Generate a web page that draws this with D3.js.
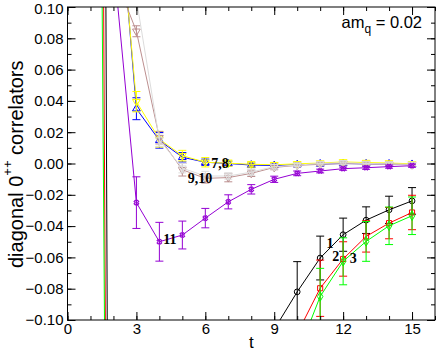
<!DOCTYPE html>
<html>
<head>
<meta charset="utf-8">
<script src="https://cdn.jsdelivr.net/npm/d3@7"></script>
<style>
	html, body { margin: 0; padding: 0; background: #fff; }
	text { font-family: "Liberation Sans", Arial, sans-serif; }
	.lbl { font-family: "Liberation Serif", "Times New Roman", serif; font-weight: bold; }
</style>
</head>
<body>
<div id="chart"></div>
<script>
// time slices
const times = [1, 2, 3, 4, 5, 6, 7, 8, 9, 10, 11, 12, 13, 14, 15];

// correlator values per operator (null = not read / not shown)
const corr1 = [2.46, -1.05, null, null, null, null, null, null, -0.106, -0.082, -0.0604, -0.0455, -0.0362, -0.0296, -0.0239];
const err1 = [null, null, null, null, null, null, null, null, null, 0.0193, 0.014, 0.0106, 0.0085, 0.0087, 0.0085];
const corr2 = [1.65, -1.05, null, null, null, null, null, null, null, -0.1087, -0.0797, -0.061, -0.0466, -0.0381, -0.0313];
const err2 = [null, null, null, null, null, null, null, null, null, 0.008, 0.018, 0.011, 0.01, 0.01, 0.011];
const corr3 = [1.12, -0.88, null, null, null, null, null, null, null, -0.1225, -0.085, -0.0625, -0.0498, -0.0398, -0.0334];
const err3 = [null, null, null, null, null, null, null, null, null, 0.02, 0.018, 0.015, 0.0127, 0.012, 0.012];
const corr7 = [null, 0.211, 0.035, 0.0148, 0.004, 0.0008, 0.0, -0.001, -0.0013, -0.0008, -0.0003, 0.0, -0.0002, -0.0003, -0.0006];
const err7 = [null, null, 0.007, 0.005, 0.003, 0.002, 0.0015, 0.0012, 0.001, 0.001, 0.001, 0.001, 0.001, 0.001, 0.001];
const corr8 = [null, 0.204, 0.0395, 0.0155, 0.005, 0.0008, 0.0002, -0.0005, -0.0008, -0.0002, 0.0003, 0.001, 0.0006, 0.0003, -0.0002];
const err8 = [null, null, 0.0065, 0.005, 0.0034, 0.003, 0.002, 0.0018, 0.0015, 0.0012, 0.0012, 0.0012, 0.0012, 0.0012, 0.0012];
const corr9 = [null, 0.122, 0.0845, 0.0165, -0.004, -0.0095, -0.009, -0.0063, -0.0025, -0.0012, -0.0005, 0.0, -0.0003, -0.0005, -0.0008];
const err9 = [null, null, 0.0035, 0.004, 0.004, 0.003, 0.0027, 0.002, 0.0015, 0.001, 0.001, 0.001, 0.001, 0.001, 0.001];
const corr10 = [null, null, 0.105, 0.015, -0.003, -0.008, -0.008, -0.0055, -0.002, -0.001, 0.0, 0.0005, 0.0, -0.0003, -0.0005];
const err10 = [null, null, 0.004, 0.004, 0.003, 0.003, 0.002, 0.002, 0.0015, 0.001, 0.001, 0.001, 0.001, 0.001, 0.001];
const corr11 = [null, 0.13, -0.025, -0.05, -0.0457, -0.0349, -0.0245, -0.0165, -0.0101, -0.0063, -0.0048, -0.0033, -0.0027, -0.002, -0.0014];
const err11 = [null, null, 0.0165, 0.0124, 0.0089, 0.0062, 0.0045, 0.003, 0.002, 0.0015, 0.0012, 0.001, 0.001, 0.001, 0.001];

// curve labels: text, t, value
const labelText = ['1', '2', '3', '7,8', '9,10', '11'];
const labelT = [11.43, 11.68, 12.44, 6.64, 5.77, 4.46];
const labelV = [-0.051, -0.0592, -0.0607, 0.0, -0.0096, -0.0484];

const xTicks = [0, 3, 6, 9, 12, 15];
const yTicks = [-0.10, -0.08, -0.06, -0.04, -0.02, 0.00, 0.02, 0.04, 0.06, 0.08, 0.10];

const width = 436;
const height = 353;
const margin = { left: 67.5, right: 1, top: 7, bottom: 33 };

const x = d3.scaleLinear().domain([0, 16]).range([margin.left, width - margin.right]);
const y = d3.scaleLinear().domain([-0.1, 0.1]).range([height - margin.bottom, margin.top]);

const svg = d3.select('#chart')
	.append('svg')
	.attr('width', width)
	.attr('height', height);

svg.append('clipPath')
	.attr('id', 'clip')
	.append('rect')
	.attr('x', x(0))
	.attr('y', y(0.1))
	.attr('width', x(16) - x(0))
	.attr('height', y(-0.1) - y(0.1));

const sets = [
	{ v: corr1, e: err1, color: '#000000', sym: d3.symbolCircle, rot: 0 },
	{ v: corr2, e: err2, color: '#ff0000', sym: d3.symbolSquare, rot: 0 },
	{ v: corr3, e: err3, color: '#00ff00', sym: d3.symbolDiamond, rot: 0 },
	{ v: corr7, e: err7, color: '#0000ff', sym: d3.symbolTriangle, rot: 0 },
	{ v: corr8, e: err8, color: '#ffff00', sym: d3.symbolTriangle, rot: 180 },
	{ v: corr9, e: err9, color: '#bc8f8f', sym: d3.symbolTriangle, rot: 180 },
	{ v: corr10, e: err10, color: '#dcdcdc', sym: d3.symbolTriangle, rot: 180 },
	{ v: corr11, e: err11, color: '#9400d3', sym: d3.symbolCross, rot: 45 }
];

const plot = svg.append('g').attr('clip-path', 'url(#clip)');

const line = d3.line()
	.x((d) => x(d.t))
	.y((d) => y(d.v));

sets.forEach((s) => {
	const pts = times
		.map((t, i) => ({ t, v: s.v[i], e: s.e[i] }))
		.filter((d) => d.v !== null);

	const g = plot.append('g');

	g.append('path')
		.attr('d', line(pts))
		.attr('fill', 'none')
		.attr('stroke', s.color)
		.attr('stroke-width', 1);

	const bars = pts.filter((d) => d.e !== null);

	g.selectAll('.bar')
		.data(bars)
		.enter()
		.append('path')
		.attr('d', (d) => {
			const cx = x(d.t);
			const y0 = y(d.v - d.e);
			const y1 = y(d.v + d.e);
			return `M${cx},${y0}V${y1}M${cx - 4},${y0}H${cx + 4}M${cx - 4},${y1}H${cx + 4}`;
		})
		.attr('fill', 'none')
		.attr('stroke', s.color)
		.attr('stroke-width', 1);

	g.selectAll('.mark')
		.data(pts.filter((d) => d.t > 2))
		.enter()
		.append('path')
		.attr('d', d3.symbol().type(s.sym).size(s.sym === d3.symbolCross ? 14 : 26))
		.attr('transform', (d) => `translate(${x(d.t)},${y(d.v)}) rotate(${s.rot})`)
		.attr('fill', 'none')
		.attr('stroke', s.color)
		.attr('stroke-width', 1);
});

// axes, ticks inward on all sides
const minorX = d3.range(0, 17, 1);
const minorY = d3.range(-10, 11, 1).map((d) => d / 100);

const axes = svg.append('g');

function addAxis (axisFn, scale, pos, ticks, size, labelled, fmt, pad) {
	const a = axisFn(scale)
		.tickValues(ticks)
		.tickSize(-size)
		.tickPadding(pad || 3)
		.tickFormat(labelled ? fmt : () => '');
	const g = axes.append('g')
		.attr('transform', pos)
		.call(a);
	g.select('.domain').remove();
	g.selectAll('line').attr('stroke', '#000');
	g.selectAll('text')
		.attr('fill', '#000')
		.style('font-size', '15px');
	return g;
}

const posBottom = `translate(0,${y(-0.1)})`;
const posTop = `translate(0,${y(0.1)})`;
const posLeft = `translate(${x(0)},0)`;
const posRight = `translate(${x(16)},0)`;

addAxis(d3.axisBottom, x, posBottom, minorX, 4, false);
addAxis(d3.axisBottom, x, posBottom, xTicks, 8, true, d3.format('d'), 3);
addAxis(d3.axisTop, x, posTop, minorX, 4, false);
addAxis(d3.axisTop, x, posTop, xTicks, 8, false);
addAxis(d3.axisLeft, y, posLeft, minorY, 4, false);
const yAxisG = addAxis(d3.axisLeft, y, posLeft, yTicks, 8, true, d3.format('.2f'), 4);
// keep the topmost label inside the page
yAxisG.selectAll('text')
	.filter((d) => d === 0.10)
	.attr('dy', '0.45em');

svg.append('rect')
	.attr('x', x(0))
	.attr('y', y(0.1))
	.attr('width', x(16) - x(0))
	.attr('height', y(-0.1) - y(0.1))
	.attr('fill', 'none')
	.attr('stroke', '#000')
	.attr('stroke-width', 1);

addAxis(d3.axisRight, y, posRight, minorY, 4, false);
addAxis(d3.axisRight, y, posRight, yTicks, 8, false);

// curve labels
svg.selectAll('.lbl')
	.data(labelText)
	.enter()
	.append('text')
	.attr('class', 'lbl')
	.attr('x', (d, i) => x(labelT[i]))
	.attr('y', (d, i) => y(labelV[i]))
	.attr('dy', '0.35em')
	.attr('text-anchor', 'middle')
	.style('font-size', '14px')
	.text((d) => d);

// axis titles
svg.append('text')
	.attr('x', (x(0) + x(16)) / 2)
	.attr('y', 348)
	.attr('text-anchor', 'middle')
	.style('font-size', '17px')
	.text('t');

const yt = svg.append('text')
	.attr('transform', 'translate(23,268) rotate(-90)')
	.attr('text-anchor', 'start')
	.style('font-size', '20px');
yt.append('tspan').text('diagonal 0');
yt.append('tspan').attr('dy', -11).style('font-size', '13px').text('++');
yt.append('tspan').attr('dy', 11).text(' correlators');

const am = svg.append('text')
	.attr('x', 422)
	.attr('y', 28)
	.attr('text-anchor', 'end')
	.style('font-size', '16.5px');
am.append('tspan').text('am');
am.append('tspan').attr('dy', 5).style('font-size', '12px').text('q');
am.append('tspan').attr('dy', -5).text(' = 0.02');
</script>
</body>
</html>
